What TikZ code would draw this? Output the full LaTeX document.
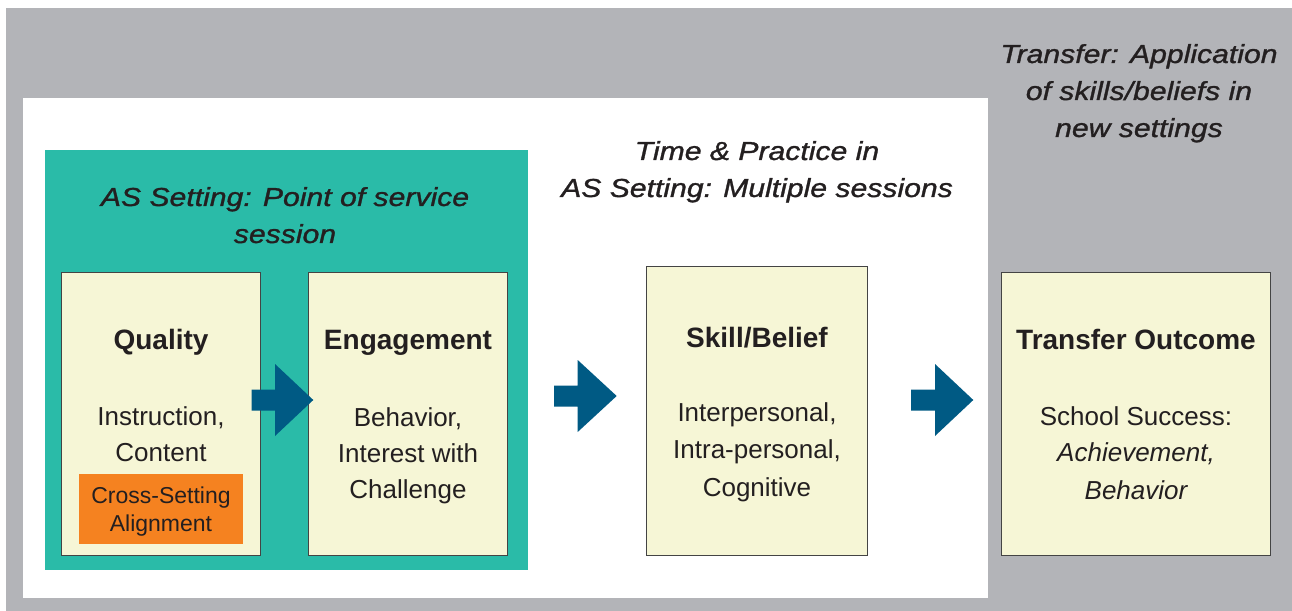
\documentclass[tikz,border=0pt]{standalone}
\usepackage{fontspec}
\setmainfont{Liberation Sans}
\newfontfamily\titlefont[FakeStretch=1.16,FakeBold=1.2]{Liberation Sans}
\definecolor{bggray}{HTML}{B3B4B8}
\definecolor{teal}{HTML}{2ABBA8}
\definecolor{cream}{HTML}{F6F6D6}
\definecolor{orangebox}{HTML}{F58220}
\definecolor{navy}{HTML}{005A84}
\definecolor{textc}{HTML}{231F20}
\definecolor{boxline}{HTML}{444444}
\tikzset{
  txt/.style={inner sep=0pt, anchor=base, text=textc, font=\fontsize{26bp}{36bp}\selectfont},
  hd/.style={txt, font=\fontsize{28bp}{36bp}\selectfont\bfseries},
  ttl/.style={txt, font=\fontsize{26bp}{37bp}\selectfont\titlefont\itshape},
  otxt/.style={txt, font=\fontsize{23bp}{27bp}\selectfont},
  itxt/.style={txt, font=\fontsize{26bp}{36bp}\selectfont\itshape},
  card/.style={draw=boxline, line width=1bp, fill=cream, inner sep=0pt},
  blockarrow/.style={fill=navy, draw=none},
}
% tail x, head start x, tip x, center y
\newcommand{\myarrow}[4]{%
  \fill[blockarrow] (#1,#4-10.5) -- (#2,#4-10.5) -- (#2,#4-36) -- (#3,#4)
    -- (#2,#4+36) -- (#2,#4+10.5) -- (#1,#4+10.5) -- cycle;}
\begin{document}
\begin{tikzpicture}[x=1bp,y=-1bp]
\useasboundingbox (0,0) rectangle (1292,611);
\fill[white] (0,0) rectangle (1292,611);
\fill[bggray] (6,8) rectangle (1292,611);
\fill[white] (23,98) rectangle (988,598);
\fill[teal] (45,150) rectangle (528,570);

% titles
\node[ttl] (t1a) at (285,206) {AS Setting: Point of service};
\node[ttl] (t1b) at (285,243) {session};
\node[ttl] (t2a) at (757,160) {Time \& Practice in};
\node[ttl] (t2b) at (757,197) {AS Setting: Multiple sessions};
\node[ttl] (t3a) at (1139,63) {Transfer: Application};
\node[ttl] (t3b) at (1139,100) {of skills/beliefs in};
\node[ttl] (t3c) at (1139,137) {new settings};

% cards
\node[card, minimum width=199.4bp, minimum height=283.2bp] (quality) at (161,414) {};
\node[card, minimum width=199.4bp, minimum height=283.2bp] (engage) at (408,414) {};
\node[card, minimum width=220.7bp, minimum height=289bp] (skill) at (757.3,410.8) {};
\node[card, minimum width=269bp, minimum height=283.4bp] (transfer) at (1136.2,414) {};
\node[fill=orangebox, minimum width=164bp, minimum height=70bp, inner sep=0pt] (align) at (161,509) {};

% arrows
\myarrow{251.7}{275}{313.3}{400}
\myarrow{554}{577.7}{616.7}{396}
\myarrow{911}{935}{973.3}{400}

% quality text
\node[hd] (qh) at (161,350) {Quality};
\node[txt] (q1) at (161,425.5) {Instruction,};
\node[txt] (q2) at (161,461.7) {Content};
\node[otxt] (o1) at (161,503.3) {Cross-Setting};
\node[otxt] (o2) at (161,531) {Alignment};

% engagement text
\node[hd] (eh) at (408,350) {Engagement};
\node[txt] (e1) at (408,426) {Behavior,};
\node[txt] (e2) at (408,462) {Interest with};
\node[txt] (e3) at (408,498.3) {Challenge};

% skill text
\node[hd] (sh) at (757,347.7) {Skill/Belief};
\node[txt] (s1) at (757,421.7) {Interpersonal,};
\node[txt] (s2) at (757,458.3) {Intra-personal,};
\node[txt] (s3) at (757,496) {Cognitive};

% transfer text
\node[hd] (th) at (1136,350) {Transfer Outcome};
\node[txt] (r1) at (1136,425) {School Success:};
\node[itxt] (r2) at (1136,461.7) {Achievement,};
\node[itxt] (r3) at (1136,499.3) {Behavior};
\end{tikzpicture}
\end{document}
